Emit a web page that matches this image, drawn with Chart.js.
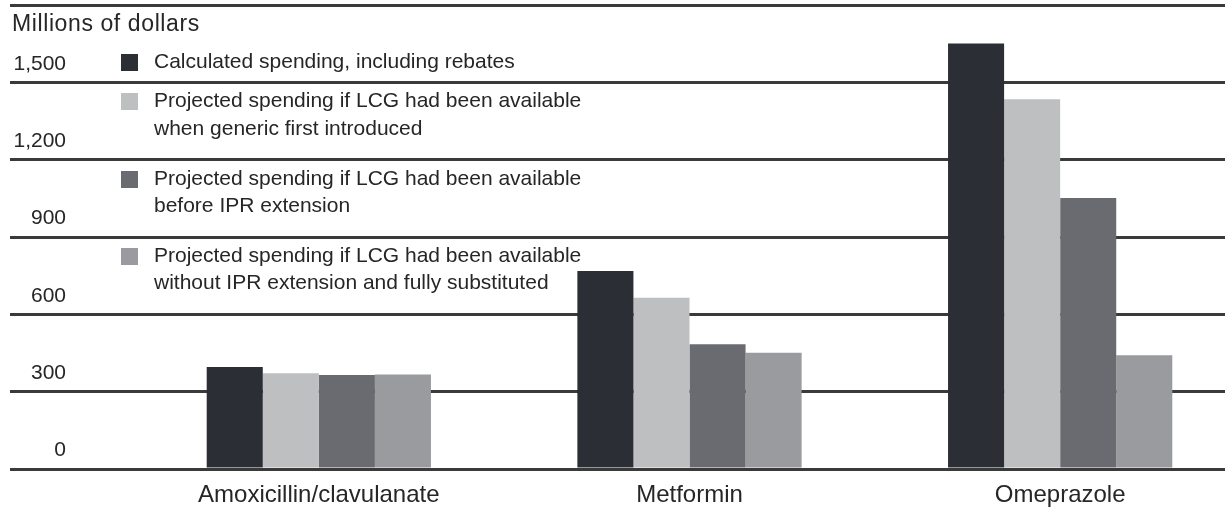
<!DOCTYPE html>
<html>
<head>
<meta charset="utf-8">
<script src="https://cdn.jsdelivr.net/npm/chart.js@4/dist/chart.umd.min.js"></script>
<style>
  html, body { margin: 0; padding: 0; background: #fff; overflow: hidden; }
  #wrap { position: relative; width: 1260px; height: 512px; }
</style>
</head>
<body>
<div id="wrap"><canvas id="c" width="1260" height="512"></canvas></div>
<script>
// Drugs on the category axis
const categories = ['Amoxicillin/clavulanate', 'Metformin', 'Omeprazole'];

// Spending per drug, millions of dollars
const calculatedSpending = [396, 768, 1651];
const projectedAtGenericIntro = [371, 664, 1434];
const projectedBeforeIPR = [365, 484, 1051];
const projectedWithoutIPR = [367, 451, 441];

// Series names (one entry per legend line)
const seriesNames = [
  ['Calculated spending, including rebates'],
  ['Projected spending if LCG had been available', 'when generic first introduced'],
  ['Projected spending if LCG had been available', 'before IPR extension'],
  ['Projected spending if LCG had been available', 'without IPR extension and fully substituted']
];
const seriesColors = ['#2c2e35', '#bebfc1', '#6a6b70', '#9a9b9e'];

// Value axis
const yTickValues = [0, 300, 600, 900, 1200, 1500, 1800];
const yTickLabels = ['0', '300', '600', '900', '1,200', '1,500', ''];
const yUnitLabel = 'Millions of dollars';

const FONT = "'Liberation Sans', Arial, sans-serif";
const TEXT = '#262626';
const RULE = '#3a3a3a';

// Unit label and the stacked legend in the upper-left block
const annotations = {
  id: 'annotations',
  afterDraw(chart) {
    const ctx = chart.ctx;
    ctx.save();
    ctx.fillStyle = TEXT;
    ctx.textBaseline = 'middle';
    ctx.textAlign = 'left';
    ctx.font = '23px ' + FONT;
    ctx.letterSpacing = '0.6px';
    ctx.fillText(yUnitLabel, 12, 25);
    ctx.letterSpacing = '0px';

    const rows = [[62], [101, 129], [179, 206], [256, 283]];
    ctx.font = '21px ' + FONT;
    chart.data.datasets.forEach((ds, i) => {
      const ys = rows[i];
      ctx.fillStyle = ds.backgroundColor;
      ctx.fillRect(121, ys[0] - 8, 17, 17);
      ctx.fillStyle = TEXT;
      ds.legendLines.forEach((line, j) => ctx.fillText(line, 154, ys[j]));
    });
    ctx.restore();
  }
};

const seriesValues = [calculatedSpending, projectedAtGenericIntro, projectedBeforeIPR, projectedWithoutIPR];

new Chart(document.getElementById('c'), {
  type: 'bar',
  data: {
    labels: categories,
    datasets: seriesValues.map((vals, i) => ({
      label: seriesNames[i].join(' '),
      legendLines: seriesNames[i],
      data: vals,
      backgroundColor: seriesColors[i],
      borderWidth: 0,
      categoryPercentage: 0.605,
      barPercentage: 1.0
    }))
  },
  options: {
    responsive: false,
    animation: false,
    devicePixelRatio: 1,
    layout: { padding: { left: 10, right: 14.5, top: 5, bottom: 0 } },
    plugins: { legend: { display: false }, tooltip: { enabled: false }, title: { display: false } },
    scales: {
      x: {
        grid: { display: false, drawTicks: false },
        border: { display: false },
        ticks: { font: { family: FONT, size: 24 }, color: TEXT, padding: 12, maxRotation: 0 },
        afterFit(scale) { scale.height = 43; scale.paddingLeft = 0; scale.paddingRight = 0; }
      },
      y: {
        min: 0,
        max: 1800,
        grid: { color: RULE, lineWidth: 3, drawTicks: true, tickLength: 123.5 },
        border: { display: false },
        ticks: {
          stepSize: 300,
          autoSkip: false,
          font: { family: FONT, size: 21 },
          color: TEXT,
          padding: -56,
          labelOffset: -18.5,
          callback: (v) => {
            const k = yTickValues.indexOf(v);
            return k >= 0 ? yTickLabels[k] : '';
          }
        },
        afterFit(scale) { scale.width = 123.5; scale.paddingTop = 0; scale.paddingBottom = 0; }
      }
    }
  },
  plugins: [annotations]
});
</script>
</body>
</html>
